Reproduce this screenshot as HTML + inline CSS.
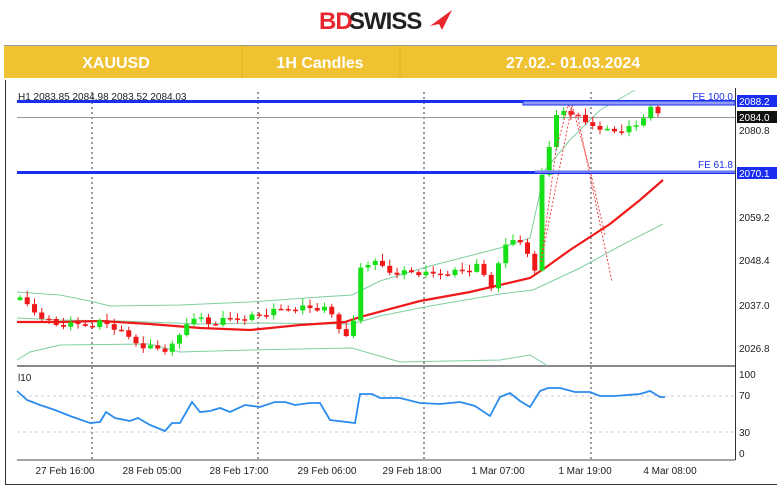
<!DOCTYPE html>
<html><head><meta charset="utf-8"><style>
body{margin:0;background:#fff;width:780px;height:488px;overflow:hidden;font-family:"Liberation Sans",sans-serif}
</style></head><body>
<svg id="s" width="780" height="488" xmlns="http://www.w3.org/2000/svg" style="position:absolute;left:0;top:0">
<rect width="780" height="488" fill="#fff"/>
<text x="319" y="29" font-size="24" font-weight="bold" fill="#e8262d" letter-spacing="-1">BD</text>
<text x="349" y="29" font-size="24" font-weight="bold" fill="#222" letter-spacing="-1">SWISS</text>
<polygon points="430,26 452,10 442,30 439,24" fill="#e8262d"/>
<rect x="4" y="45" width="773" height="33" fill="#f0c232"/>
<line x1="4" y1="45.5" x2="777" y2="45.5" stroke="#999" stroke-width="1"/>
<line x1="242" y1="45" x2="242" y2="78" stroke="#e0b020"/>
<line x1="400" y1="45" x2="400" y2="78" stroke="#e0b020"/>
<g font-size="16" font-weight="bold" fill="#fff" text-anchor="middle">
<text x="116" y="68">XAUUSD</text><text x="320" y="68">1H Candles</text><text x="573" y="68">27.02.- 01.03.2024</text></g>
<line x1="5.5" y1="80" x2="5.5" y2="485" stroke="#333"/>
<line x1="5" y1="484.5" x2="777" y2="484.5" stroke="#333"/>
<line x1="735.5" y1="88" x2="735.5" y2="460" stroke="#333"/>
<line x1="17" y1="366" x2="735" y2="366" stroke="#888" stroke-width="2"/>
<line x1="17" y1="460" x2="735" y2="460" stroke="#888" stroke-width="1.5"/>
<g stroke="#333" stroke-dasharray="2,3" stroke-width="1"><line x1="92" y1="92" x2="92" y2="460"/><line x1="258" y1="92" x2="258" y2="460"/><line x1="424" y1="92" x2="424" y2="460"/><line x1="591" y1="92" x2="591" y2="460"/></g>
<g stroke="#ccc" stroke-dasharray="3,3"><line x1="17" y1="396" x2="735" y2="396"/><line x1="17" y1="432" x2="735" y2="432"/></g>
<line x1="17" y1="117.5" x2="735" y2="117.5" stroke="#999"/>
<text x="18" y="100" font-size="10" fill="#222">H1  2083.85 2084.98 2083.52 2084.03</text>
<text x="18" y="381" font-size="10" fill="#222">l10</text>
<g id="g"></g>
<rect x="17" y="100" width="718" height="3" fill="#1a2ef0"/>
<rect x="523" y="101" width="212" height="4" fill="#8f9cf5" stroke="#1a2ef0" stroke-width="1"/>
<rect x="17" y="171" width="718" height="3" fill="#1a2ef0"/>
<rect x="535" y="170" width="200" height="3" fill="#8f9cf5" opacity="0.7"/>
<text x="733" y="100" font-size="10" fill="#1a2ef0" text-anchor="end">FE 100.0</text>
<text x="733" y="168" font-size="10" fill="#1a2ef0" text-anchor="end">FE 61.8</text>
<g font-size="10" fill="#222">
<rect x="737" y="95" width="40" height="12" fill="#1a2ef0"/><text x="739" y="105" fill="#fff">2088.2</text>
<rect x="737" y="111" width="40" height="12" fill="#111"/><text x="739" y="121" fill="#fff">2084.0</text>
<rect x="737" y="167" width="40" height="12" fill="#1a2ef0"/><text x="739" y="177" fill="#fff">2070.1</text>
<text x="739" y="134">2080.8</text><text x="739" y="221">2059.2</text><text x="739" y="264">2048.4</text><text x="739" y="309">2037.0</text><text x="739" y="352">2026.8</text>
<text x="739" y="378">100</text><text x="739" y="399">70</text><text x="739" y="436">30</text><text x="739" y="457">0</text>
</g>
<g font-size="10" fill="#222" text-anchor="middle">
<text x="65" y="474">27 Feb 16:00</text><text x="152" y="474">28 Feb 05:00</text><text x="239" y="474">28 Feb 17:00</text><text x="327" y="474">29 Feb 06:00</text><text x="412" y="474">29 Feb 18:00</text><text x="498" y="474">1 Mar 07:00</text><text x="585" y="474">1 Mar 19:00</text><text x="670" y="474">4 Mar 08:00</text></g>
</svg>
<script>
const g=document.getElementById('g');let h='';
function interp(k,x){for(let i=1;i<k.length;i++){if(x<=k[i][0]){const a=k[i-1],b=k[i];return a[1]+(b[1]-a[1])*(x-a[0])/(b[0]-a[0]);}}return k[k.length-1][1];}
function pl(k,c,w,d){h+=`<polyline fill="none" stroke="${c}" stroke-width="${w}" ${d||''} points="${k.map(p=>p.join(',')).join(' ')}"/>`;}
const cl=[[20,300],[25,303],[35,312],[45,318],[55,325],[70,325],[90,325],[100,322],[110,325],[120,332],[140,345],[165,350],[175,345],[185,325],[195,315],[210,325],[225,320],[240,318],[260,315],[280,310],[300,307],[330,310],[335,325],[345,333],[352,335],[360,268],[370,262],[380,265],[390,272],[410,272],[430,275],[450,272],[470,270],[480,265],[490,292],[500,255],[510,240],[520,240],[530,262],[535,272],[541,178],[548,150],[555,118],[565,110],[575,115],[585,123],[600,127],[610,132],[625,130],[640,125],[650,103],[658,115],[665,117]];
// bands
pl([[17,292],[60,295],[90,301],[110,306],[180,305],[250,302],[320,297],[352,295],[380,281],[430,266],[500,248],[530,238],[545,170],[570,140],[600,110],[635,90]],'#7fcf9f',1);
pl([[17,318],[60,320],[120,321],[200,324],[260,323],[352,324],[380,316],[430,306],[500,294],[533,290],[580,268],[620,246],[663,224]],'#7fcf9f',1);
pl([[17,360],[30,352],[60,345],[150,344],[180,352],[250,350],[352,348],[400,362],[500,360],[530,355],[548,366]],'#7fcf9f',1);
pl([[17,322],[60,322],[100,321],[150,324],[200,328],[250,330],[300,325],[345,322],[360,317],[420,301],[470,292],[530,278],[545,268],[570,250],[610,224],[640,200],[663,180]],'#f01818',2.2);
let prev=300,i=0;
for(let x=20;x<=665;x+=7.25,i++){let c=interp(cl,x);c+=((i*37)%7-3)*0.9;const o=prev;const up=c<o;const col=up?'#18e018':'#f01818';
const t=Math.min(o,c),b=Math.max(o,c);const r=((i*53)%11)/2+1;h+=`<line x1="${x}" y1="${t-r-1}" x2="${x}" y2="${b+((i*29)%9)/2+1}" stroke="${col}"/>`;
h+=`<rect x="${x-2.5}" y="${t}" width="5" height="${Math.max(1.5,b-t)}" fill="${col}"/>`;prev=c;}
pl([[541,262],[556,150],[568,105],[578,118],[612,282]],'#f04040',1,'stroke-dasharray="2,2"');
pl([[541,262],[572,105],[590,170],[605,235]],'#f04040',1,'stroke-dasharray="2,2"');
pl([[17,391],[27,400],[40,405],[55,410],[70,416],[90,423],[100,422],[106,412],[115,418],[130,421],[138,418],[150,425],[165,431],[172,423],[180,423],[192,402],[200,412],[210,411],[220,408],[230,412],[245,405],[260,407],[275,402],[285,402],[295,405],[310,403],[320,403],[330,420],[355,423],[360,394],[372,394],[380,398],[400,398],[420,403],[440,404],[460,402],[475,406],[490,416],[500,397],[510,393],[520,401],[530,407],[540,391],[548,388],[560,388],[575,392],[590,392],[600,396],[615,396],[640,394],[650,391],[660,397],[665,397]],'#2b8cf0',1.8);
g.innerHTML=h;
</script>
</body></html>
